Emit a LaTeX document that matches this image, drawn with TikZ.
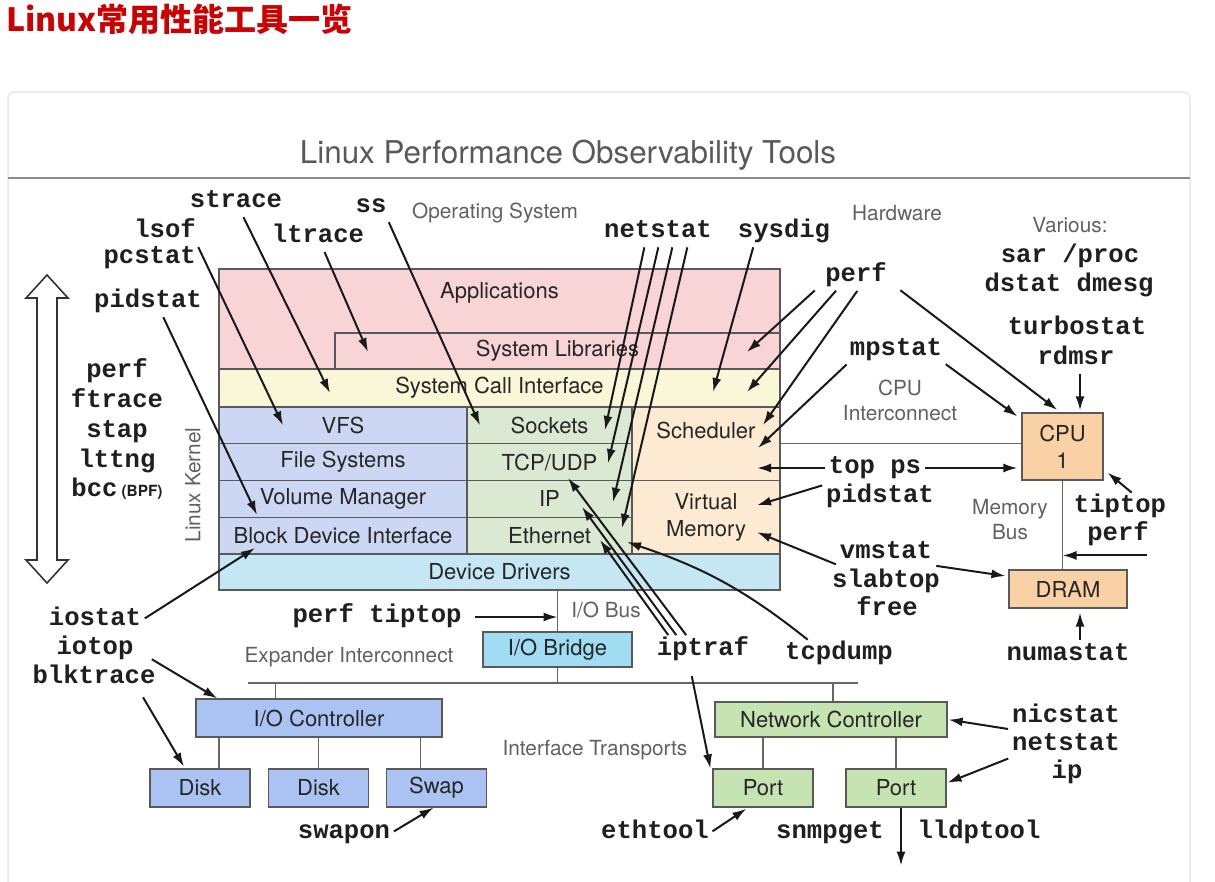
\documentclass[tikz,border=0pt]{standalone}
\usepackage{fontspec}
\setmainfont{TeX Gyre Heros}
\newfontfamily\toolfamily{Liberation Mono}
\newfontfamily\cjkfamily{Noto Sans CJK SC}
\usetikzlibrary{arrows.meta}
\newcommand\toolfnt{\toolfamily\bfseries\fontsize{25.6}{29.5}\selectfont}
\newcommand\boxfnt{\fontsize{22}{27}\selectfont}
\newcommand\notefnt{\fontsize{20.8}{25}\selectfont}
\newcommand\bpffnt{\rmfamily\bfseries\fontsize{15.4}{18}\selectfont}

\begin{document}
\begin{tikzpicture}[x=1pt, y=1pt,
    lyr/.style={draw=black!65, fill=#1, line width=1.2pt, inner sep=0pt, align=center, font=\boxfnt, text=black!85},
    tool/.style={font=\toolfnt, text=black!88, inner sep=1pt, text height=16.6pt, text depth=5.9pt},
    note/.style={font=\notefnt, text=black!62, inner sep=1pt, align=center},
    toolarrow/.style={draw=black!90, line width=2pt, -{Latex[length=14pt,width=9pt]}, shorten <=3pt},
    wire/.style={draw=black!60, line width=1.4pt}]
  \definecolor{titlered}{RGB}{204,0,0}
  \definecolor{appcol}{RGB}{248,212,214}
  \definecolor{callcol}{RGB}{250,247,216}
  \definecolor{kerncol}{RGB}{204,215,243}
  \definecolor{netcol}{RGB}{219,232,210}
  \definecolor{schedcol}{RGB}{252,235,210}
  \definecolor{drvcol}{RGB}{197,230,243}
  \definecolor{cpucol}{RGB}{249,209,165}
  \definecolor{bridgecol}{RGB}{160,220,242}
  \definecolor{ctlcol}{RGB}{170,195,242}
  \definecolor{niccol}{RGB}{198,227,178}
  \useasboundingbox (0,0) rectangle (1215,-882);
  % ---- page title and card ---------------------------------------------------
  \node[anchor=base west, inner sep=0pt, font=\cjkfamily\bfseries\fontsize{32}{36}\selectfont, text=titlered] (pagetitle) at (6,-32) {Linux常用性能工具一览};
  \draw[draw=black!9, line width=1.5pt, rounded corners=6pt] (8,-92) rectangle (1190,-920);
  \draw[draw=black!45, line width=1.5pt] (8,-178) -- (1190,-178);
  \node[font=\fontsize{31.4}{36}\selectfont, text=black!65] (cardtitle) at (568,-155) {Linux Performance Observability Tools};
  % ---- kernel stack ----------------------------------------------------------
  \node[lyr=appcol, minimum width=561pt, minimum height=100pt,
    label={[font=\boxfnt, text=black!85, yshift=26pt]center:Applications}] (apps) at (499.5,-319) {};
  \node[lyr=appcol, minimum width=445pt, minimum height=36pt] (syslib) at (557.5,-351) {System Libraries};
  \node[lyr=callcol, minimum width=561pt, minimum height=38pt] (syscall) at (499.5,-388) {System Call Interface};
  \foreach \nm/\t [count=\i] in {vfs/VFS, fs/File Systems, volmgr/Volume Manager, blkdev/Block Device Interface} {
    \node[lyr=kerncol, minimum width=248pt, minimum height=36.75pt] (\nm) at (343, -388.625-36.75*\i) {\t};}
  \foreach \nm/\t [count=\i] in {sockets/Sockets, tcpudp/{TCP/UDP}, ip/IP, ether/Ethernet} {
    \node[lyr=netcol, minimum width=165pt, minimum height=36.75pt] (\nm) at (549.5, -388.625-36.75*\i) {\t};}
  \node[lyr=schedcol, minimum width=148pt, minimum height=73.5pt,
    label={[font=\boxfnt, text=black!85, yshift=13.75pt]center:Scheduler}] (sched) at (706,-443.75) {};
  \node[lyr=schedcol, minimum width=148pt, minimum height=73.5pt] (vmem) at (706,-517.25) {Virtual\\Memory};
  \node[lyr=drvcol, minimum width=561pt, minimum height=36pt] (drivers) at (499.5,-572) {Device Drivers};
  \node[note, rotate=90] (kernlbl) at (193,-485) {Linux Kernel};
  % up/down hollow arrow
  \draw[draw=black!80, line width=1.6pt, fill=white] (47,-275) -- (68,-298) -- (57,-298) -- (57,-560) -- (68,-560)
    -- (47,-583) -- (26,-560) -- (37,-560) -- (37,-298) -- (26,-298) -- cycle;
  % ---- hardware ----------------------------------------------------------------
  \node[lyr=cpucol, minimum width=81pt, minimum height=67pt] (cpu) at (1062.5,-446.5) {CPU\\1};
  \node[lyr=cpucol, minimum width=118pt, minimum height=38pt] (dram) at (1068,-589) {DRAM};
  \node[lyr=bridgecol, minimum width=149pt, minimum height=35pt] (iobridge) at (557.5,-649.5) {I/O Bridge};
  \node[lyr=ctlcol, minimum width=246pt, minimum height=38pt] (ioctl) at (319,-718) {I/O Controller};
  \foreach \nm/\x/\t in {disk1/200/Disk, disk2/318.5/Disk, swap/436.5/Swap} {
    \node[lyr=ctlcol, minimum width=100pt, minimum height=38pt] (\nm) at (\x,-788) {\t};}
  \node[lyr=niccol, minimum width=232pt, minimum height=35pt] (netctl) at (831,-719.5) {Network Controller};
  \foreach \nm/\x in {port1/763, port2/896} {
    \node[lyr=niccol, minimum width=100pt, minimum height=38pt] (\nm) at (\x,-788) {Port};}
  % buses
  \draw[wire] (sched.east) -- (sched.east -| cpu.west);
  \draw[wire] (cpu.south) -- (cpu.south |- dram.north);
  \draw[wire] (iobridge.north) -- (iobridge.north |- drivers.south);
  \coordinate (expL) at (248,-683);
  \coordinate (expR) at (858,-683);
  \draw[wire] (expL) -- (expR);
  \draw[wire] (iobridge.south) -- (iobridge.south |- expL);
  \draw[wire] ([xshift=80]ioctl.north west) -- ([xshift=80]ioctl.north west |- expL);
  \draw[wire] ([xshift=2]netctl.north) -- ([xshift=2]netctl.north |- expL);
  \foreach \nm/\dx in {disk1/19, disk2/0, swap/-16} {
    \draw[wire] ([xshift=\dx]\nm.north) -- ([xshift=\dx]\nm.north |- ioctl.south);}
  \foreach \nm in {port1, port2} {
    \draw[wire] (\nm.north) -- (\nm.north |- netctl.south);}
  % ---- notes -------------------------------------------------------------------
  \node[note] (osnote) at (495,-213) {Operating System};
  \node[note] (hwnote) at (897,-213) {Hardware};
  \node[note] (varnote) at (1070,-225) {Various:};
  \node[note] (cpubus) at (900,-400) {CPU\\Interconnect};
  \node[note] (membus) at (1010,-520) {Memory\\Bus};
  \node[note] (iobus) at (606,-610) {I/O Bus};
  \node[note] (expnote) at (349,-657) {Expander Interconnect};
  \node[note] (ifnote) at (595,-750) {Interface Transports};
  % ---- tool labels -------------------------------------------------------------
  \node[tool] (lstrace) at (236,-202) {strace};
  \node[tool, anchor=east] (llsof) at (197,-232) {lsof};
  \node[tool, anchor=east] (lpcstat) at (197,-258) {pcstat};
  \node[tool] (lltrace) at (318,-237) {ltrace};
  \node[tool] (lss) at (371,-207) {ss};
  \node[tool] (lpidstat) at (148,-302) {pidstat};
  \foreach \y/\t [count=\i] in {372/perf, 402/ftrace, 432/stap, 462/lttng, 491/{bcc\kern4pt{\bpffnt(BPF)}}} {
    \node[tool] (trc\i) at (117,-\y) {\t};}
  \node[tool] (lnetstat) at (658,-232) {netstat};
  \node[tool] (lsysdig) at (784,-232) {sysdig};
  \node[tool] (lperf) at (856,-276) {perf};
  \node[tool] (lsar) at (1070,-257) {sar /proc};
  \node[tool] (ldstat) at (1069,-286) {dstat dmesg};
  \node[tool] (lturbo) at (1077,-329) {turbostat};
  \node[tool] (lrdmsr) at (1076,-359) {rdmsr};
  \node[tool] (lmpstat) at (896,-350) {mpstat};
  \node[tool] (ltopps) at (875,-468) {top ps};
  \node[tool] (lpidstatb) at (880,-497) {pidstat};
  \node[tool] (lvmstat) at (886,-553) {vmstat};
  \node[tool] (lslabtop) at (886,-582) {slabtop};
  \node[tool] (lfree) at (887,-610) {free};
  \node[tool] (ltiptop) at (1120,-507) {tiptop};
  \node[tool] (lperfb) at (1118,-535) {perf};
  \node[tool] (lnuma) at (1068,-655) {numastat};
  \node[tool] (liostat) at (95,-620) {iostat};
  \node[tool] (liotop) at (95,-649) {iotop};
  \node[tool] (lblktrace) at (94,-678) {blktrace};
  \node[tool] (lperftip) at (377,-617) {perf tiptop};
  \node[tool] (liptraf) at (703,-650) {iptraf};
  \node[tool] (ltcpdump) at (839,-654) {tcpdump};
  \node[tool] (lnicstat) at (1066,-717) {nicstat};
  \node[tool] (lnetstatb) at (1066,-745) {netstat};
  \node[tool] (lip) at (1067,-773) {ip};
  \node[tool] (lethtool) at (655,-833) {ethtool};
  \node[tool] (lswapon) at (344,-833) {swapon};
  \node[tool] (lsnmp) at (830,-833) {snmpget};
  \node[tool] (llldp) at (979,-833) {lldptool};
  % ---- arrows into the software stack ---------------------------------------
  \draw[toolarrow] (lstrace) -- ([shift={(-169.5,-5)}]syscall.center);
  \draw[toolarrow] (llsof.south east) -- ([shift={(-60,0)}]vfs.center);
  \draw[toolarrow] (lltrace) -- ([shift={(-189.5,-1)}]syslib.center);
  \draw[toolarrow] ([xshift=14]lpidstat.south) -- ([shift={(-86,-16)}]volmgr.center);
  \draw[toolarrow] (lss.south east) -- ([shift={(-69.5,0)}]sockets.center);
  \foreach \dx/\nm/\tx/\ty in {-13/sockets/55.5/-4.6, 1/tcpudp/58.5/-1, 15/ip/63.5/-3, 30/ether/72.5/7.6} {
    \draw[toolarrow] ([xshift=\dx]lnetstat.south) -- ([shift={(\tx,\ty)}]\nm.center);}
  \draw[toolarrow] ([xshift=-30]lsysdig.south) -- ([shift={(213.5,-4)}]syscall.center);
  \foreach \dx/\nm/\tx/\ty in {-39/syslib/189.5/-1, -18/syscall/247.5/-4, 3/sched/57/18.75} {
    \draw[toolarrow] ([xshift=\dx]lperf.south) -- ([shift={(\tx,\ty)}]\nm.center);}
  \draw[toolarrow] (lmpstat.south west) -- ([shift={(52,-4.25)}]sched.center);
  \draw[toolarrow] (ltopps.west) -- ([shift={(51,-24.25)}]sched.center);
  \draw[toolarrow] (lpidstatb.north west) -- ([shift={(51,12)}]vmem.center);
  \draw[toolarrow] (lvmstat.south west) -- ([shift={(51,-15)}]vmem.center);
  \draw[toolarrow] (liostat.east) -- ([shift={(-88,-12.4)}]blkdev.center);
  \foreach \dx/\nm/\tx/\ty in {-15/tcpudp/18.5/-15.9, -25/ip/32.5/-8.1, -33/ether/50.5/-4.4} {
    \draw[toolarrow] ([xshift=\dx]liptraf.north) -- ([shift={(\tx,\ty)}]\nm.center);}
  \draw[toolarrow] ([xshift=-29]ltcpdump.north) to[bend right=10] ([shift={(77.5,-6.4)}]ether.center);
  % ---- arrows into the hardware ----------------------------------------------
  \draw[toolarrow, shorten >=4pt] ([xshift=42]lperf.south) -- ([xshift=-2]cpu.north);
  \draw[toolarrow] (lmpstat.south east) -- ([shift={(-4,-4)}]cpu.north west);
  \draw[toolarrow, shorten >=2pt] ([xshift=4]lrdmsr.south) -- ([xshift=4]lrdmsr.south |- cpu.north);
  \draw[toolarrow, shorten >=4pt] (ltopps.east) -- (ltopps.east -| cpu.west);
  \draw[toolarrow, shorten >=3pt] (lvmstat.south east) -- ([yshift=-7]dram.north west);
  \draw[toolarrow] ([xshift=14]ltiptop.north) -- ([shift={(4,8)}]cpu.south east);
  \draw[toolarrow] ([yshift=-8]lperfb.south east) -- ([yshift=-8]lperfb.south east -| cpu.south);
  \draw[toolarrow, shorten >=4pt] ([xshift=12]lnuma.north) -- ([xshift=12]lnuma.north |- dram.south);
  \draw[toolarrow, shorten <=12pt] (lperftip.east) -- (lperftip.east -| iobridge.north);
  \draw[toolarrow, shorten <=20pt] (liotop.east) -- ([xshift=22]ioctl.north west);
  \draw[toolarrow, shorten <=8pt, shorten >=2pt] ([xshift=45]lblktrace.south) -- ([xshift=-15]disk1.north);
  \draw[toolarrow] (lswapon.east) -- ([xshift=-3]swap.south);
  \draw[toolarrow, shorten <=14pt] ([xshift=-14]liptraf.south) -- ([xshift=-2]port1.north west);
  \draw[toolarrow, shorten >=2pt] (lethtool.east) -- ([xshift=-15]port1.south);
  \draw[toolarrow, shorten >=1pt] (lnicstat.south west) -- (netctl.east);
  \draw[toolarrow, shorten >=1pt] (lnetstatb.south west) -- ([yshift=5]port2.east);
  \coordinate (netout) at ([shift={(5,-58)}]port2.south);
  \draw[toolarrow, shorten <=0pt] ([xshift=5]port2.south) -- (netout);
\end{tikzpicture}
\end{document}
